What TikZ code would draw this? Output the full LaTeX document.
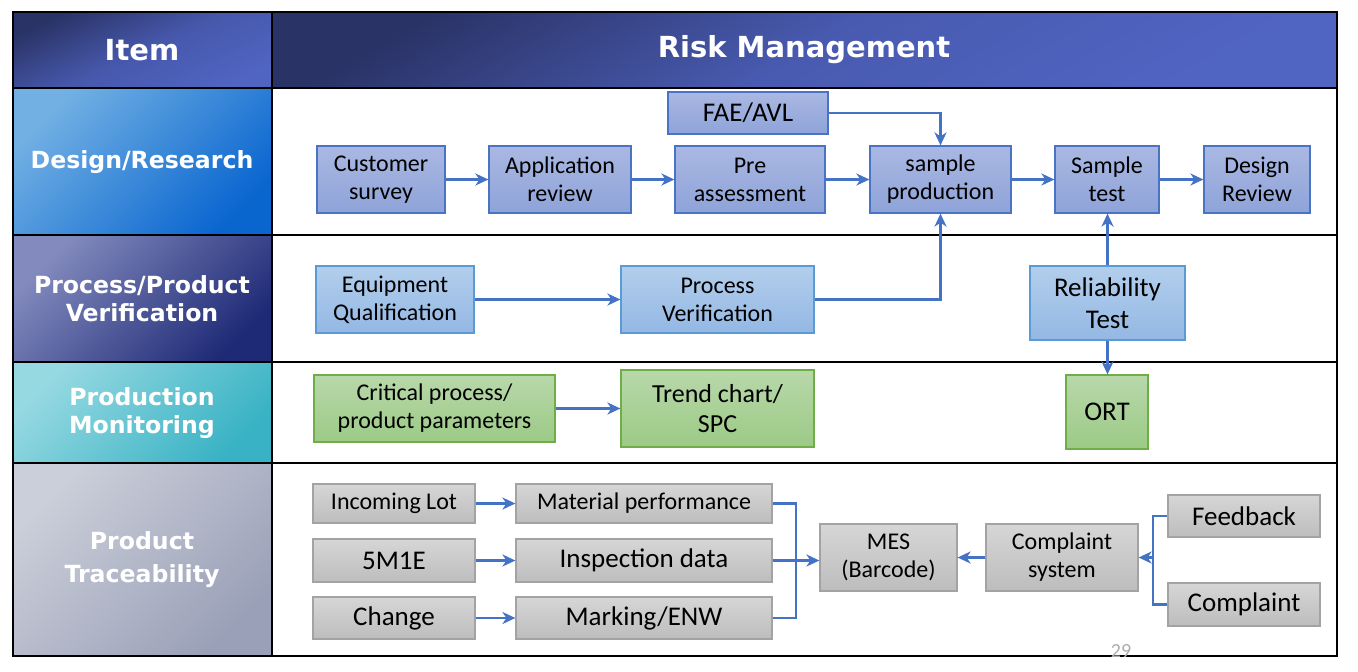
\documentclass[tikz,border=0pt]{standalone}
\usepackage{fontspec}
\setmainfont{Carlito}
\newfontfamily\headfont{DejaVu Sans}
\usetikzlibrary{arrows.meta,positioning}

\definecolor{hdA}{HTML}{2A3366}
\definecolor{hdB}{HTML}{5064C2}
\definecolor{drA}{HTML}{72B0E4}
\definecolor{drB}{HTML}{0A66CF}
\definecolor{pvA}{HTML}{838BBE}
\definecolor{pvB}{HTML}{1E2A76}
\definecolor{pmA}{HTML}{96D9E1}
\definecolor{pmB}{HTML}{38B2C4}
\definecolor{ptA}{HTML}{CBCFDA}
\definecolor{ptB}{HTML}{9AA0B7}
\definecolor{arrowblue}{HTML}{4472C4}
\definecolor{bluetop}{HTML}{AAB8E2}
\definecolor{bluebot}{HTML}{8EA3D9}
\definecolor{blueline}{HTML}{4A73C5}
\definecolor{skytop}{HTML}{B2CEEC}
\definecolor{skybot}{HTML}{94B8E4}
\definecolor{skyline}{HTML}{5B9BD5}
\definecolor{greentop}{HTML}{B8D8AA}
\definecolor{greenbot}{HTML}{9CCA86}
\definecolor{greenline}{HTML}{6FAD47}
\definecolor{greytop}{HTML}{D6D6D6}
\definecolor{greybot}{HTML}{BDBDBD}
\definecolor{greyline}{HTML}{A3A3A3}

\begin{document}
\begin{tikzpicture}[x=0.5pt, y=-0.5pt,
	sz/.style 2 args={minimum width=#1*0.5pt, minimum height=#2*0.5pt},
	box/.style={draw, line width=0.6pt, inner sep=0pt, align=center},
	smalltxt/.style={font=\fontsize{12}{14}\selectfont},
	bigtxt/.style={font=\fontsize{13.5}{16}\selectfont},
	bluebox/.style={box, smalltxt, draw=blueline, top color=bluetop, bottom color=bluebot},
	skybox/.style={box, smalltxt, draw=skyline, top color=skytop, bottom color=skybot},
	greenbox/.style={box, smalltxt, draw=greenline, top color=greentop, bottom color=greenbot},
	greybox/.style={box, bigtxt, draw=greyline, top color=greytop, bottom color=greybot},
	arr/.style={draw=arrowblue, line width=1.1pt, -{Stealth[length=6.5pt,width=6pt,inset=2pt]}},
	bus/.style={draw=arrowblue, line width=1.1pt},
	celltxt/.style={text=white, align=center, font=\headfont\bfseries\fontsize{11.8}{14}\selectfont},
	headtxt/.style={text=white, font=\headfont\bfseries\fontsize{14.5}{17}\selectfont},
	diag/.style 2 args={top color=#1, bottom color=#2, shading angle=45}]

	\useasboundingbox[fill=white] (0,0) rectangle (1358,671);

	% Header and row cells
	\shade[top color=hdA, bottom color=hdB, middle color=hdB!75!hdA, shading angle=25] (13,12) rectangle (272,88);
	\shade[top color=hdA, bottom color=hdB, middle color=hdB!80!hdA, shading angle=30] (272,12) rectangle (1337,88);
	\shade[diag={drA}{drB}] (13,88) rectangle (272,235);
	\shade[diag={pvA}{pvB}] (13,235) rectangle (272,362);
	\shade[diag={pmA}{pmB}] (13,362) rectangle (272,463);
	\shade[diag={ptA}{ptB}] (13,463) rectangle (272,656);

	% Grid
	\draw[line width=0.8pt] (13,12) rectangle (1337,656);
	\draw[line width=0.8pt] (272,12) -- (272,656);
	\foreach \y in {88,235,362,463} {
		\draw[line width=0.8pt] (13,\y) -- (1337,\y);
	}

	\node[headtxt] (item) at (142,50) {Item};
	\node[headtxt] (risk) at (804,50) {Risk Management};
	\node[celltxt] (design) at (142,162) {Design/Research};
	\node[celltxt] (verif) at (142,299) {Process/Product\\Verification};
	\node[celltxt] (monit) at (142,413) {Production\\Monitoring};
	\node[celltxt, font=\headfont\bfseries\fontsize{11.8}{16.5}\selectfont] (trace) at (142,560) {Product\\Traceability};

	% Design / Research
	\node[bluebox, bigtxt, sz={160}{42}] (fae) at (748,113) {FAE/AVL};
	\node[bluebox, sz={128}{67}] (cust) at (381,179.5) {Customer\\survey};
	\node[bluebox, sz={142}{67}] (appl) at (560,179.5) {Application\\review};
	\node[bluebox, sz={150}{67}] (pre) at (750,179.5) {Pre\\assessment};
	\node[bluebox, sz={141}{67}] (samp) at (940.5,179.5) {sample\\production};
	\node[bluebox, sz={104}{67}] (stest) at (1107,179.5) {Sample\\test};
	\node[bluebox, sz={106}{67}] (drev) at (1257,179.5) {Design\\Review};

	\draw[arr] (cust) -- (appl);
	\draw[arr] (appl) -- (pre);
	\draw[arr] (pre) -- (samp);
	\draw[arr] (samp) -- (stest);
	\draw[arr] (stest) -- (drev);
	\draw[arr] (fae) -| (samp);

	% Process / Product verification
	\node[skybox, sz={158}{67}] (equip) at (395,299.5) {Equipment\\Qualification};
	\node[skybox, sz={193}{67}] (procv) at (717.5,299.5) {Process\\Verification};
	\node[skybox, bigtxt, sz={155}{74}] (relt) at (1107.5,303) {Reliability\\Test};

	\draw[arr] (equip) -- (procv);
	\draw[arr] (procv) -| (samp);
	\draw[arr] (relt.north) -- (relt.north |- stest.south);

	% Production monitoring
	\node[greenbox, sz={241}{67}] (crit) at (434.5,408.5) {Critical process/\\product parameters};
	\node[greenbox, font=\fontsize{13}{15}\selectfont, sz={193}{77}] (trend) at (717.5,408.5) {Trend chart/\\SPC};
	\node[greenbox, bigtxt, sz={82}{74}] (ort) at (1107,412) {ORT};

	\draw[arr] (crit) -- (trend);
	\draw[arr] (relt.south) -- (relt.south |- ort.north);

	% Product traceability
	\node[greybox, smalltxt, sz={162}{39}] (inlot) at (394,503.5) {Incoming Lot};
	\node[greybox, smalltxt, sz={256}{39}] (matp) at (644,503.5) {Material performance};
	\node[greybox, sz={162}{43}] (m5e) at (394,560.5) {5M1E};
	\node[greybox, sz={256}{43}] (insp) at (644,560.5) {Inspection data};
	\node[greybox, sz={162}{42}] (chg) at (394,618) {Change};
	\node[greybox, sz={256}{42}] (mark) at (644,618) {Marking/ENW};
	\node[greybox, smalltxt, sz={137}{67}] (mes) at (888.5,557.5) {MES\\(Barcode)};
	\node[greybox, smalltxt, sz={152}{67}] (csys) at (1062,557.5) {Complaint\\system};
	\node[greybox, sz={152}{42}] (fdbk) at (1244,516) {Feedback};
	\node[greybox, sz={152}{43}] (cmpl) at (1244,604.5) {Complaint};

	\draw[arr] (inlot) -- (matp);
	\draw[arr] (m5e) -- (insp);
	\draw[arr] (chg) -- (mark);

	\coordinate (busL) at (796,560.5);
	\coordinate (busR) at (1153,557.5);
	\draw[bus] (matp) -| (busL) |- (mark);
	\draw[arr] (insp) -- (insp -| mes.west);
	\draw[arr] (csys) -- (mes);
	\draw[bus] (fdbk) -| (busR) |- (cmpl);
	\draw[arr] (busR) -- (csys);

	\node[text=gray!65, anchor=base, inner sep=0pt, font=\fontsize{10}{11}\selectfont] (pgnum) at (1121,657) {29};
\end{tikzpicture}
\end{document}
